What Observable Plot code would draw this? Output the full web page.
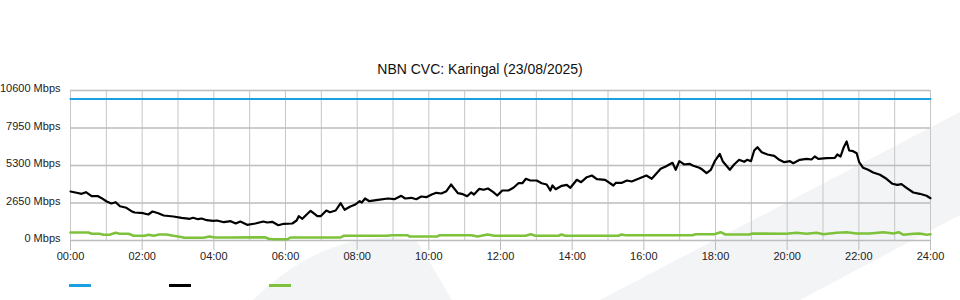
<!DOCTYPE html>
<html>
<head>
<meta charset="utf-8">
<script src="https://cdn.jsdelivr.net/npm/d3@7"></script>
<script src="https://cdn.jsdelivr.net/npm/@observablehq/plot@0.6"></script>
<style>
  html, body { margin: 0; padding: 0; background: #fff; }
  #wrap { position: relative; width: 960px; height: 300px; overflow: hidden; font-family: "Liberation Sans", Arial, sans-serif; }
  #bg { position: absolute; left: 0; top: 0; }
  #title { position: absolute; left: 0; top: 61px; width: 960px; text-align: center; font-size: 14px; line-height: 16px; color: #111; }
  #chart { position: absolute; left: 0; top: 0; }
  .sw { position: absolute; top: 284px; width: 22px; height: 3px; }
</style>
</head>
<body>
<div id="wrap">
  <svg id="bg" width="960" height="300">
    <path d="M253,300 C285,268 330,240 380,238 C400,237 414,239 419,244 L452,300 Z" fill="#f3f4f6"/>
    <path d="M600,300 L960,112 L960,215 L800,300 Z" fill="#f3f4f6"/>
  </svg>
  <div id="title"></div>
  <div id="chart"></div>
  <div id="legend"></div>
</div>
<script>
const titleText = "NBN CVC: Karingal (23/08/2025)";
const yTicks = [0, 2650, 5300, 7950, 10600];
const xTicks = [0, 2, 4, 6, 8, 10, 12, 14, 16, 18, 20, 22, 24];
const xGrid = d3.range(0, 25, 1);
const seriesNames = ["Capacity", "Download", "Upload"];
const seriesColors = ["#1a9fe0", "#000000", "#7dc23a"];

// [hour, Mbps]
const capacity = [[0, 10000], [24, 10000]];

const download = [
[0.00,3463],[0.17,3371],[0.31,3300],[0.43,3413],[0.59,3131],[0.77,3131],[0.87,2989],[1.01,2756],
[1.14,2615],[1.26,2707],[1.38,2424],[1.56,2311],[1.70,2071],[1.79,1979],[2.03,1929],[2.17,1837],
[2.29,2049],[2.45,1929],[2.60,1767],[2.87,1696],[3.10,1604],[3.33,1533],[3.42,1604],[3.56,1505],
[3.66,1555],[3.80,1435],[3.98,1392],[4.09,1413],[4.28,1293],[4.47,1364],[4.61,1201],[4.74,1343],
[4.93,1109],[5.16,1201],[5.38,1343],[5.49,1272],[5.63,1321],[5.80,1081],[5.95,1180],[6.19,1201],
[6.31,1413],[6.37,1717],[6.47,1533],[6.70,2099],[6.89,1717],[6.98,1717],[7.14,2120],[7.24,2000],
[7.40,2120],[7.54,2636],[7.65,2169],[7.81,2403],[7.95,2544],[8.07,2777],[8.13,2685],[8.22,2968],
[8.34,2777],[8.58,2876],[8.86,2968],[9.04,2919],[9.23,3159],[9.34,2968],[9.51,3017],[9.65,2919],
[9.79,3109],[9.93,3060],[10.08,3251],[10.21,3371],[10.35,3321],[10.49,3484],[10.62,3957],[10.81,3343],
[10.95,3272],[11.07,3131],[11.18,3392],[11.26,3251],[11.41,3653],[11.53,3583],[11.65,3675],[11.79,3441],
[11.91,3180],[12.05,3533],[12.22,3533],[12.36,3724],[12.50,4049],[12.61,4049],[12.71,4360],[12.83,4240],
[13.01,4240],[13.15,4049],[13.29,3957],[13.39,3533],[13.45,3887],[13.54,3625],[13.71,3865],[13.85,3936],
[13.95,3724],[14.13,4289],[14.25,4120],[14.41,4473],[14.55,4593],[14.69,4332],[14.92,4289],[15.15,3887],
[15.22,4077],[15.39,4077],[15.53,4240],[15.66,4169],[15.85,4360],[16.07,4593],[16.22,4360],[16.47,5067],
[16.61,5229],[16.80,5491],[16.89,4996],[16.99,5604],[17.13,5371],[17.27,5420],[17.38,5279],[17.55,5138],
[17.64,4996],[17.75,4756],[17.87,4996],[17.99,5653],[18.12,6127],[18.20,5604],[18.40,4996],[18.52,5371],
[18.66,5703],[18.80,5562],[18.89,5703],[18.99,5604],[19.08,6360],[19.17,6593],[19.29,6240],[19.45,6077],
[19.64,5985],[19.78,5703],[19.92,5533],[20.08,5604],[20.17,5463],[20.35,5703],[20.54,5773],[20.68,5724],
[20.77,5936],[20.87,5773],[21.10,5816],[21.33,5844],[21.40,6077],[21.49,5936],[21.58,6593],[21.66,6996],
[21.73,6360],[21.84,6311],[21.94,6169],[22.01,5533],[22.12,5138],[22.26,4996],[22.40,4805],[22.59,4643],
[22.77,4360],[22.94,4007],[23.07,3936],[23.19,3979],[23.33,3724],[23.52,3392],[23.70,3300],[23.89,3159],
[24.00,2989]
];

const upload = [
[0.00,565],[0.50,565],[0.59,473],[0.81,473],[0.92,403],[1.09,403],[1.26,544],[1.37,473],[1.62,473],
[1.76,332],[2.07,332],[2.18,403],[2.32,332],[2.48,424],[2.68,424],[2.87,332],[3.01,283],[3.18,191],
[3.71,191],[3.88,283],[4.02,212],[4.47,212],[5.44,220],[5.53,120],[5.67,92],[6.06,92],[6.14,212],
[7.54,212],[7.62,332],[8.04,332],[8.85,332],[8.96,375],[9.41,375],[9.46,283],[10.24,283],[10.30,375],
[11.19,375],[11.36,283],[11.64,424],[11.83,332],[12.70,332],[12.84,445],[12.98,332],[13.62,332],
[13.70,424],[13.81,332],[15.29,332],[15.38,424],[15.49,375],[16.07,375],[17.36,375],[17.44,445],
[17.97,445],[18.14,587],[18.28,424],[18.95,424],[19.03,495],[19.98,473],[20.26,544],[20.54,473],
[20.82,544],[21.01,445],[21.38,544],[21.66,587],[21.94,495],[22.30,495],[22.69,587],[22.97,495],
[23.11,587],[23.25,403],[23.53,473],[23.69,495],[23.89,403],[24.00,445]
];

document.getElementById("title").textContent = titleText;

const toRows = arr => arr.map(([t, v]) => ({t, v}));
const fmtHour = d => String(d).padStart(2, "0") + ":00";

const chart = Plot.plot({
  width: 960,
  height: 270,
  marginTop: 90,
  marginBottom: 30,
  marginLeft: 70,
  marginRight: 30,
  style: { background: "transparent", fontFamily: "'Liberation Sans', Arial, sans-serif", fontSize: "11px", color: "#222" },
  x: { domain: [0, 24], label: null },
  y: { domain: [0, 10600], label: null },
  marks: [
    Plot.gridX(xGrid, { stroke: "#c6c6c6", strokeOpacity: 1, strokeWidth: 1 }),
    Plot.gridY(yTicks, { stroke: "#bdbdbd", strokeOpacity: 1, strokeWidth: 1.6 }),
    Plot.axisX({ ticks: xTicks, tickFormat: fmtHour, tickSize: 10, tickPadding: 2, stroke: "#bdbdbd", fill: "#222", label: null }),
    Plot.axisY({ ticks: yTicks, tickFormat: d => d + " Mbps", tickSize: 0, tickPadding: 10, dy: -2, fill: "#222", label: null }),
    Plot.line(toRows(capacity), { x: "t", y: "v", stroke: seriesColors[0], strokeWidth: 2.2 }),
    Plot.line(toRows(upload), { x: "t", y: "v", stroke: seriesColors[2], strokeWidth: 2.6 }),
    Plot.line(toRows(download), { x: "t", y: "v", stroke: seriesColors[1], strokeWidth: 2.2, strokeLinejoin: "round" })
  ]
});
document.getElementById("chart").appendChild(chart);

const legend = document.getElementById("legend");
seriesNames.forEach((name, i) => {
  const s = document.createElement("span");
  s.className = "sw";
  s.title = name;
  s.style.left = (69 + i * 100) + "px";
  s.style.background = seriesColors[i];
  legend.appendChild(s);
});
</script>
</body>
</html>
